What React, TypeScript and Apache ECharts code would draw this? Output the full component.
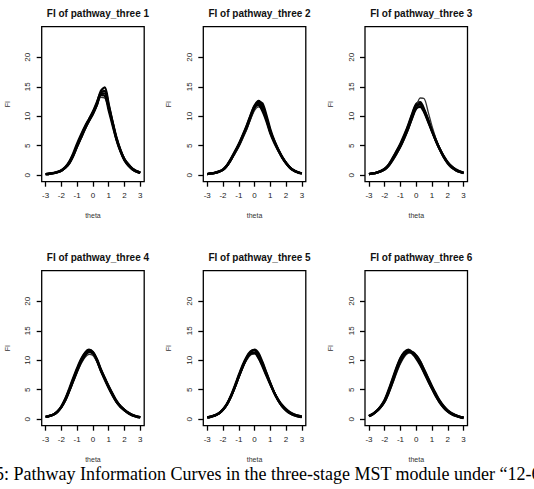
import React, { useEffect, useRef } from "react";
import * as echarts from "echarts";

const thetas = [-3, -2.75, -2.5, -2.25, -2, -1.75, -1.5, -1.25, -1, -0.75, -0.5, -0.25, 0, 0.25, 0.5, 0.75, 1, 1.25, 1.5, 1.75, 2, 2.25, 2.5, 2.75, 3];
const xTicks = [-3, -2, -1, 0, 1, 2, 3];
const yTicks = [0, 5, 10, 15, 20];
const panelTitles = ["FI of pathway_three 1", "FI of pathway_three 2", "FI of pathway_three 3", "FI of pathway_three 4", "FI of pathway_three 5", "FI of pathway_three 6"];

const p1a = [0.2, 0.25, 0.35, 0.5, 0.75, 1.3, 2.1, 3.4, 5.0, 6.5, 8.0, 9.3, 10.5, 12.0, 13.8, 13.9, 11.5, 8.8, 6.2, 4.2, 2.7, 1.8, 1.1, 0.7, 0.45];
const p1b = [0.2, 0.25, 0.35, 0.55, 0.85, 1.4, 2.3, 3.7, 5.4, 6.9, 8.3, 9.5, 10.7, 12.2, 14.3, 14.9, 12.0, 9.0, 6.3, 4.2, 2.6, 1.7, 1.0, 0.65, 0.4];
const p1c = [0.15, 0.2, 0.3, 0.45, 0.7, 1.2, 1.9, 3.1, 4.7, 6.2, 7.7, 9.1, 10.3, 11.8, 13.2, 13.1, 11.2, 8.6, 6.1, 4.3, 2.8, 1.9, 1.2, 0.75, 0.5];
const p1d = [0.2, 0.25, 0.35, 0.5, 0.8, 1.3, 2.2, 3.5, 5.1, 6.7, 8.2, 9.5, 10.8, 12.4, 14.0, 14.3, 11.8, 8.9, 6.0, 4.0, 2.5, 1.6, 1.0, 0.6, 0.4];
const p1e = [0.2, 0.25, 0.4, 0.55, 0.8, 1.3, 2.0, 3.3, 4.9, 6.4, 7.9, 9.2, 10.4, 11.9, 13.6, 13.5, 11.0, 8.4, 6.0, 4.1, 2.7, 1.8, 1.1, 0.7, 0.45];

const p2a = [0.2, 0.3, 0.4, 0.6, 0.9, 1.6, 2.6, 3.8, 5.0, 6.5, 8.0, 9.8, 11.4, 12.2, 11.3, 9.5, 7.3, 5.7, 4.3, 3.1, 2.1, 1.3, 0.8, 0.5, 0.3];
const p2b = [0.2, 0.3, 0.45, 0.65, 1.0, 1.7, 2.8, 4.0, 5.3, 6.8, 8.4, 10.2, 11.8, 12.6, 11.8, 9.8, 7.5, 5.8, 4.3, 3.0, 2.0, 1.2, 0.75, 0.45, 0.3];
const p2c = [0.15, 0.25, 0.4, 0.6, 0.9, 1.5, 2.5, 3.6, 4.8, 6.2, 7.7, 9.5, 11.0, 11.6, 11.0, 9.3, 7.2, 5.6, 4.3, 3.2, 2.2, 1.4, 0.85, 0.55, 0.35];
const p2d = [0.2, 0.3, 0.4, 0.6, 0.95, 1.6, 2.6, 3.9, 5.1, 6.6, 8.1, 9.9, 11.5, 12.4, 12.2, 10.2, 7.8, 5.9, 4.4, 3.1, 2.0, 1.3, 0.8, 0.5, 0.3];
const p2e = [0.2, 0.3, 0.4, 0.6, 0.9, 1.6, 2.7, 3.9, 5.2, 6.7, 8.3, 10.1, 11.7, 11.9, 10.9, 9.2, 7.1, 5.5, 4.2, 3.0, 2.1, 1.3, 0.8, 0.5, 0.3];

const p3a = [0.2, 0.3, 0.45, 0.7, 1.0, 1.7, 2.7, 3.8, 5.0, 6.5, 8.1, 10.0, 11.6, 12.1, 11.0, 9.4, 7.6, 5.9, 4.4, 3.1, 2.1, 1.4, 0.9, 0.6, 0.4];
const p3b = [0.2, 0.3, 0.45, 0.7, 1.1, 1.8, 2.9, 4.1, 5.4, 6.9, 8.6, 10.5, 12.1, 12.4, 11.2, 9.5, 7.6, 5.8, 4.3, 3.0, 2.0, 1.3, 0.85, 0.55, 0.35];
const p3c = [0.15, 0.25, 0.4, 0.6, 0.9, 1.5, 2.4, 3.5, 4.7, 6.1, 7.7, 9.6, 11.5, 13.1, 13.0, 10.8, 8.3, 6.2, 4.4, 3.0, 2.0, 1.3, 0.85, 0.55, 0.35];
const p3d = [0.2, 0.3, 0.45, 0.65, 1.0, 1.6, 2.6, 3.7, 4.9, 6.4, 8.0, 9.8, 11.3, 11.6, 10.7, 9.1, 7.4, 5.8, 4.4, 3.2, 2.2, 1.5, 1.0, 0.65, 0.45];
const p3e = [0.2, 0.3, 0.45, 0.7, 1.05, 1.75, 2.8, 4.0, 5.2, 6.7, 8.4, 10.3, 11.9, 12.0, 10.9, 9.2, 7.5, 5.9, 4.4, 3.1, 2.1, 1.4, 0.9, 0.6, 0.4];

const p4a = [0.4, 0.55, 0.8, 1.3, 2.1, 3.3, 4.9, 6.6, 8.3, 9.8, 10.9, 11.4, 11.1, 9.9, 8.3, 6.9, 5.5, 4.2, 3.0, 2.2, 1.6, 1.1, 0.7, 0.5, 0.35];
const p4b = [0.4, 0.55, 0.8, 1.3, 2.2, 3.5, 5.2, 7.0, 8.7, 10.2, 11.3, 11.8, 11.4, 10.1, 8.4, 6.9, 5.4, 4.1, 2.9, 2.1, 1.5, 1.0, 0.65, 0.45, 0.3];
const p4c = [0.35, 0.5, 0.75, 1.2, 2.0, 3.1, 4.6, 6.3, 7.9, 9.4, 10.5, 11.0, 10.8, 9.8, 8.3, 6.9, 5.5, 4.2, 3.1, 2.3, 1.6, 1.1, 0.75, 0.5, 0.35];
const p4d = [0.4, 0.55, 0.8, 1.3, 2.1, 3.4, 5.0, 6.8, 8.5, 10.0, 11.2, 11.7, 11.3, 10.0, 8.2, 6.7, 5.3, 4.0, 2.9, 2.1, 1.5, 1.0, 0.7, 0.45, 0.3];
const p4e = [0.4, 0.55, 0.8, 1.25, 2.05, 3.2, 4.8, 6.5, 8.2, 9.7, 10.8, 11.5, 11.3, 10.2, 8.5, 7.0, 5.6, 4.3, 3.1, 2.2, 1.6, 1.1, 0.75, 0.5, 0.35];

const p5a = [0.3, 0.45, 0.65, 1.0, 1.6, 2.5, 3.8, 5.4, 7.2, 8.9, 10.3, 11.2, 11.3, 10.5, 9.2, 7.6, 6.0, 4.5, 3.3, 2.3, 1.6, 1.1, 0.8, 0.6, 0.45];
const p5b = [0.3, 0.45, 0.7, 1.05, 1.7, 2.6, 4.0, 5.7, 7.5, 9.2, 10.6, 11.5, 11.7, 10.9, 9.5, 7.8, 6.1, 4.5, 3.2, 2.2, 1.5, 1.0, 0.7, 0.5, 0.4];
const p5c = [0.25, 0.4, 0.6, 0.95, 1.5, 2.4, 3.7, 5.3, 7.0, 8.7, 10.0, 10.9, 11.1, 10.6, 9.4, 7.8, 6.1, 4.6, 3.3, 2.3, 1.6, 1.1, 0.8, 0.55, 0.4];
const p5d = [0.3, 0.45, 0.65, 1.0, 1.6, 2.55, 3.9, 5.5, 7.3, 9.0, 10.4, 11.4, 11.8, 11.2, 9.7, 7.9, 6.1, 4.5, 3.2, 2.2, 1.5, 1.0, 0.7, 0.5, 0.35];
const p5e = [0.3, 0.45, 0.65, 1.0, 1.65, 2.5, 3.8, 5.4, 7.2, 8.9, 10.3, 11.1, 11.2, 10.4, 9.0, 7.4, 5.9, 4.5, 3.3, 2.4, 1.7, 1.2, 0.85, 0.6, 0.45];

const p6a = [0.55, 0.9, 1.4, 2.1, 3.1, 4.7, 6.5, 8.4, 10.0, 11.0, 11.5, 11.3, 10.7, 9.6, 8.2, 6.8, 5.4, 4.1, 3.0, 2.1, 1.4, 0.95, 0.65, 0.4, 0.25];
const p6b = [0.55, 0.9, 1.45, 2.2, 3.3, 5.0, 6.9, 8.8, 10.4, 11.4, 11.8, 11.4, 10.6, 9.4, 8.0, 6.6, 5.2, 3.9, 2.8, 1.9, 1.3, 0.85, 0.55, 0.35, 0.2];
const p6c = [0.5, 0.8, 1.3, 1.95, 2.9, 4.3, 6.0, 7.8, 9.4, 10.6, 11.2, 11.3, 10.9, 10.0, 8.6, 7.1, 5.6, 4.3, 3.1, 2.2, 1.5, 1.0, 0.7, 0.45, 0.3];
const p6d = [0.55, 0.9, 1.4, 2.15, 3.2, 4.8, 6.7, 8.6, 10.3, 11.3, 11.6, 11.1, 10.3, 9.2, 7.9, 6.5, 5.2, 3.9, 2.8, 2.0, 1.35, 0.9, 0.6, 0.4, 0.25];
const p6e = [0.5, 0.85, 1.35, 2.05, 3.0, 4.5, 6.3, 8.2, 9.8, 10.9, 11.4, 11.4, 10.8, 9.8, 8.4, 7.0, 5.6, 4.3, 3.1, 2.2, 1.5, 1.0, 0.7, 0.45, 0.3];

const panelCurves = [
  [p1a, p1b, p1c, p1d, p1e],
  [p2a, p2b, p2c, p2d, p2e],
  [p3a, p3b, p3c, p3d, p3e],
  [p4a, p4b, p4c, p4d, p4e],
  [p5a, p5b, p5c, p5d, p5e],
  [p6a, p6b, p6c, p6d, p6e],
];

const captionText = "5: Pathway Information Curves in the three-stage MST module under \u201C12-6";

export default function App() {
  const ref = useRef<HTMLDivElement>(null);
  useEffect(() => {
    if (!ref.current) return;
    const chart = echarts.init(ref.current, null, { renderer: "svg" });
    const colLefts = [41.7, 203.3, 365];
    const rowTops = [26.7, 270.7];
    const gw = 102.5;
    const gh = 155;
    const grids: any[] = [];
    const xAxes: any[] = [];
    const yAxes: any[] = [];
    const titles: any[] = [];
    const series: any[] = [];
    const font = "Liberation Sans, Arial, sans-serif";
    for (let i = 0; i < 6; i++) {
      const c = i % 3;
      const r = Math.floor(i / 3);
      grids.push({
        left: colLefts[c],
        top: rowTops[r],
        width: gw,
        height: gh,
        show: true,
        borderColor: "#000",
        borderWidth: 1.3,
        backgroundColor: "transparent",
      });
      xAxes.push({
        type: "value",
        gridIndex: i,
        min: -3.25,
        max: 3.25,
        splitLine: { show: false },
        axisLine: { show: false, onZero: false },
        axisTick: { show: true, inside: false, length: 5, customValues: xTicks, lineStyle: { color: "#000", width: 1.3 } },
        axisLabel: { show: true, customValues: xTicks, margin: 10, fontSize: 8, color: "#222", fontFamily: font },
        name: "theta",
        nameLocation: "middle",
        nameGap: 30,
        nameTextStyle: { fontSize: 7, color: "#333", fontFamily: font },
      });
      yAxes.push({
        type: "value",
        gridIndex: i,
        min: -1.1,
        max: 25.2,
        splitLine: { show: false },
        axisLine: { show: false, onZero: false },
        axisTick: { show: true, inside: false, length: 5, customValues: yTicks, lineStyle: { color: "#000", width: 1.3 } },
        axisLabel: { show: true, customValues: yTicks, rotate: 90, margin: 10, fontSize: 8, color: "#222", fontFamily: font },
        name: "FI",
        nameLocation: "middle",
        nameRotate: 90,
        nameGap: 31,
        nameTextStyle: { fontSize: 7, color: "#333", fontFamily: font },
      });
      titles.push({
        text: panelTitles[i],
        left: colLefts[c] + gw / 2,
        top: rowTops[r] - 23,
        textAlign: "center",
        textStyle: { fontSize: 10, fontWeight: "bold", color: "#111", fontFamily: font },
      });
      panelCurves[i].forEach((curve, j) => {
        series.push({
          type: "line",
          xAxisIndex: i,
          yAxisIndex: i,
          data: thetas.map((t, k) => [t, curve[k]]),
          showSymbol: false,
          smooth: 0.3,
          silent: true,
          lineStyle: { color: j === 2 ? "#333" : "#000", width: j === 2 ? 1.3 : 2.3 },
        });
      });
    }
    chart.setOption({
      animation: false,
      backgroundColor: "#fff",
      title: titles,
      grid: grids,
      xAxis: xAxes,
      yAxis: yAxes,
      series,
      graphic: [
        {
          type: "text",
          left: -5,
          top: 465,
          style: {
            text: captionText,
            font: "18px 'Liberation Serif', 'Times New Roman', serif",
            fill: "#000",
          },
        },
      ],
    });
    return () => chart.dispose();
  }, []);
  return <div ref={ref} style={{ position: "absolute", left: 0, top: 0, width: 534, height: 489 }} />;
}
